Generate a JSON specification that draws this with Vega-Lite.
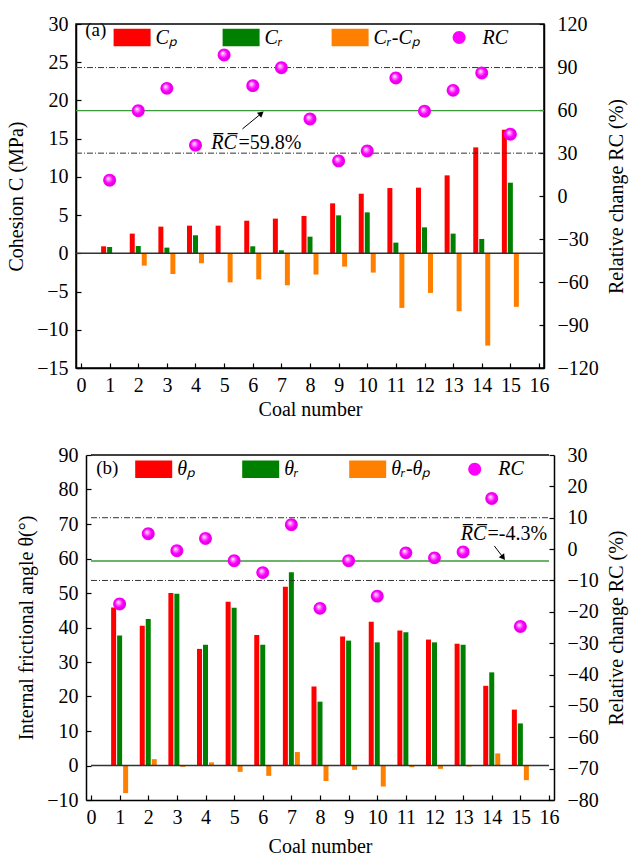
{
 "$schema": "https://vega.github.io/schema/vega-lite/v6.json",
 "padding": {"left": 5, "top": 13, "right": 5, "bottom": 3},
 "background": "white",
 "config": {
  "font": "Liberation Serif",
  "view": {"stroke": "black", "strokeWidth": 1.5},
  "axis": {"grid": false, "labelFontSize": 20, "titleFontSize": 20, "titleFontWeight": "normal", "labelColor": "black", "titleColor": "black", "domainColor": "black", "domainWidth": 1.5, "tickColor": "black", "tickSize": -5, "tickWidth": 1.2, "labelFont": "Liberation Serif", "titleFont": "Liberation Serif", "labelFlush": false, "labelOverlap": false},
  "legend": {"orient": "none", "direction": "horizontal", "columns": 4, "gridAlign": "all", "columnPadding": 20, "symbolSize": 1369, "symbolStrokeWidth": 0, "symbolOpacity": 1, "labelFontSize": 20, "labelFontStyle": "italic", "labelFont": "Liberation Serif", "labelColor": "black", "labelOffset": 5, "padding": 0, "title": null}
 },
 "datasets": {
  "a": [
   {"coal":1,"Cp":0.92,"Cr":0.83,"diff":-0.09,"RC":11.0},
   {"coal":2,"Cp":2.58,"Cr":0.96,"diff":-1.61,"RC":59.5},
   {"coal":3,"Cp":3.49,"Cr":0.75,"diff":-2.7,"RC":75.1},
   {"coal":4,"Cp":3.62,"Cr":2.36,"diff":-1.3,"RC":35.4},
   {"coal":5,"Cp":3.62,"Cr":0.06,"diff":-3.8,"RC":98.4},
   {"coal":6,"Cp":4.27,"Cr":0.92,"diff":-3.4,"RC":77.0},
   {"coal":7,"Cp":4.54,"Cr":0.4,"diff":-4.18,"RC":89.5},
   {"coal":8,"Cp":4.89,"Cr":2.18,"diff":-2.78,"RC":53.7},
   {"coal":9,"Cp":6.54,"Cr":4.97,"diff":-1.74,"RC":24.5},
   {"coal":10,"Cp":7.8,"Cr":5.36,"diff":-2.52,"RC":31.4},
   {"coal":11,"Cp":8.54,"Cr":1.4,"diff":-7.14,"RC":82.3},
   {"coal":12,"Cp":8.59,"Cr":3.4,"diff":-5.18,"RC":59.1},
   {"coal":13,"Cp":10.2,"Cr":2.58,"diff":-7.58,"RC":73.7},
   {"coal":14,"Cp":13.86,"Cr":1.88,"diff":-12.07,"RC":85.8},
   {"coal":15,"Cp":16.17,"Cr":9.24,"diff":-7.0,"RC":43.1}
  ],
  "b": [
   {"coal":1,"tp":45.8,"tr":37.7,"diff":-8.0,"RC":-17.5},
   {"coal":2,"tp":40.5,"tr":42.5,"diff":1.84,"RC":4.9},
   {"coal":3,"tp":50.0,"tr":49.8,"diff":-0.4,"RC":-0.5},
   {"coal":4,"tp":33.8,"tr":35.0,"diff":0.9,"RC":3.4},
   {"coal":5,"tp":47.5,"tr":45.7,"diff":-1.84,"RC":-3.7},
   {"coal":6,"tp":37.8,"tr":35.0,"diff":-3.0,"RC":-7.5},
   {"coal":7,"tp":51.8,"tr":56.0,"diff":3.9,"RC":7.8},
   {"coal":8,"tp":22.9,"tr":18.5,"diff":-4.5,"RC":-18.9},
   {"coal":9,"tp":37.4,"tr":36.2,"diff":-1.26,"RC":-3.7},
   {"coal":10,"tp":41.7,"tr":35.7,"diff":-6.1,"RC":-15.0},
   {"coal":11,"tp":39.1,"tr":38.6,"diff":-0.5,"RC":-1.2},
   {"coal":12,"tp":36.5,"tr":35.7,"diff":-0.97,"RC":-2.8},
   {"coal":13,"tp":35.3,"tr":35.0,"diff":-0.3,"RC":-0.9},
   {"coal":14,"tp":23.1,"tr":27.0,"diff":3.5,"RC":16.1},
   {"coal":15,"tp":16.2,"tr":12.2,"diff":-4.25,"RC":-24.7}
  ],
  "one": [{}]
 },
 "resolve": {"scale": {"color": "independent", "shape": "independent"}, "legend": {"color": "independent", "shape": "independent"}},
 "spacing": 25,
 "vconcat": [
  {
   "width": 468, "height": 344,
   "resolve": {"scale": {"y": "independent"}},
   "layer": [
    {
     "data": {"name": "a"},
     "layer": [
      {"mark": {"type": "bar", "orient": "vertical", "color": "#ff0000", "width": 5, "xOffset": -6},
       "encoding": {
        "x": {"field": "coal", "type": "quantitative", "scale": {"domain": [0,16], "nice": false}, "axis": {"title": "Coal number", "values": [0,1,2,3,4,5,6,7,8,9,10,11,12,13,14,15,16], "labelPadding": 12, "titlePadding": 4}},
        "y": {"field": "Cp", "type": "quantitative", "scale": {"domain": [-15,30], "nice": false, "zero": false}, "axis": {"title": "Cohesion C (MPa)", "orient": "left", "values": [-15,-10,-5,0,5,10,15,20,25,30], "labelPadding": 13, "titlePadding": 10}}}},
      {"mark": {"type": "bar", "orient": "vertical", "color": "#008000", "width": 5},
       "encoding": {
        "x": {"field": "coal", "type": "quantitative", "scale": {"domain": [0,16], "nice": false}, "axis": {"title": "Coal number", "values": [0,1,2,3,4,5,6,7,8,9,10,11,12,13,14,15,16], "labelPadding": 12, "titlePadding": 4}},
        "y": {"field": "Cr", "type": "quantitative", "scale": {"domain": [-15,30], "nice": false, "zero": false}, "axis": {"title": "Cohesion C (MPa)", "orient": "left", "values": [-15,-10,-5,0,5,10,15,20,25,30], "labelPadding": 13, "titlePadding": 10}}}},
      {"mark": {"type": "bar", "orient": "vertical", "color": "#ff8000", "width": 5, "xOffset": 6},
       "encoding": {
        "x": {"field": "coal", "type": "quantitative", "scale": {"domain": [0,16], "nice": false}, "axis": {"title": "Coal number", "values": [0,1,2,3,4,5,6,7,8,9,10,11,12,13,14,15,16], "labelPadding": 12, "titlePadding": 4}},
        "y": {"field": "diff", "type": "quantitative", "scale": {"domain": [-15,30], "nice": false, "zero": false}, "axis": {"title": "Cohesion C (MPa)", "orient": "left", "values": [-15,-10,-5,0,5,10,15,20,25,30], "labelPadding": 13, "titlePadding": 10}}}},
      {"data": {"name": "one"}, "mark": {"type": "rule", "color": "#333333", "strokeWidth": 1.5},
       "encoding": {"y": {"datum": 0, "type": "quantitative", "scale": {"domain": [-15,30], "nice": false, "zero": false}, "axis": {"title": "Cohesion C (MPa)", "orient": "left", "values": [-15,-10,-5,0,5,10,15,20,25,30], "labelPadding": 13, "titlePadding": 10}}}},
      {"data": {"name": "one"}, "mark": {"type": "text", "text": "(a)", "align": "left", "baseline": "middle", "fontSize": 19, "font": "Liberation Serif"},
       "encoding": {
        "x": {"datum": 0.15, "type": "quantitative", "scale": {"domain": [0,16], "nice": false}, "axis": {"title": "Coal number", "values": [0,1,2,3,4,5,6,7,8,9,10,11,12,13,14,15,16], "labelPadding": 12, "titlePadding": 4}},
        "y": {"datum": 29.2, "type": "quantitative", "scale": {"domain": [-15,30], "nice": false, "zero": false}, "axis": {"title": "Cohesion C (MPa)", "orient": "left", "values": [-15,-10,-5,0,5,10,15,20,25,30], "labelPadding": 13, "titlePadding": 10}}}}
     ]
    },
    {
     "data": {"name": "a"},
     "layer": [
      {"data": {"name": "one"}, "mark": {"type": "rule", "color": "#333333", "strokeWidth": 1, "strokeDash": [6, 2, 1, 2]},
       "encoding": {"y": {"datum": 89.6, "type": "quantitative", "scale": {"domain": [-120,120], "nice": false, "zero": false}, "axis": {"title": "Relative change RC (%)", "orient": "right", "values": [-120,-90,-60,-30,0,30,60,90,120], "labelPadding": 18, "titlePadding": 8, "titleAngle": 270, "titleBaseline": "top"}}}},
      {"data": {"name": "one"}, "mark": {"type": "rule", "color": "#333333", "strokeWidth": 1, "strokeDash": [6, 2, 1, 2]},
       "encoding": {"y": {"datum": 29.9, "type": "quantitative", "scale": {"domain": [-120,120], "nice": false, "zero": false}, "axis": {"title": "Relative change RC (%)", "orient": "right", "values": [-120,-90,-60,-30,0,30,60,90,120], "labelPadding": 18, "titlePadding": 8, "titleAngle": 270, "titleBaseline": "top"}}}},
      {"data": {"name": "one"}, "mark": {"type": "rule", "color": "#3a9a3a", "strokeWidth": 1.3},
       "encoding": {"y": {"datum": 59.6, "type": "quantitative", "scale": {"domain": [-120,120], "nice": false, "zero": false}, "axis": {"title": "Relative change RC (%)", "orient": "right", "values": [-120,-90,-60,-30,0,30,60,90,120], "labelPadding": 18, "titlePadding": 8, "titleAngle": 270, "titleBaseline": "top"}}}},
      {"mark": {"type": "point", "filled": true, "opacity": 1, "size": 1369, "strokeWidth": 0},
       "encoding": {
        "x": {"field": "coal", "type": "quantitative", "scale": {"domain": [0,16], "nice": false}, "axis": {"title": "Coal number", "values": [0,1,2,3,4,5,6,7,8,9,10,11,12,13,14,15,16], "labelPadding": 12, "titlePadding": 4}},
        "y": {"field": "RC", "type": "quantitative", "scale": {"domain": [-120,120], "nice": false, "zero": false}, "axis": {"title": "Relative change RC (%)", "orient": "right", "values": [-120,-90,-60,-30,0,30,60,90,120], "labelPadding": 18, "titlePadding": 8, "titleAngle": 270, "titleBaseline": "top"}},
        "color": {"datum": "RC", "type": "nominal", "scale": {"domain": ["Cₚ", "Cᵣ", "Cᵣ-Cₚ", "RC"], "range": ["#ff0000", "#008000", "#ff8000", "#ff00ff"]}, "legend": {"legendX": 37.6, "legendY": -5.2}},
        "shape": {"datum": "RC", "type": "nominal", "scale": {"domain": ["Cₚ", "Cᵣ", "Cᵣ-Cₚ", "RC"], "range": ["M-1,-0.47H1V0.47H-1Z", "M-1,-0.47H1V0.47H-1Z", "M-1,-0.47H1V0.47H-1Z", "M0,-0.35A0.35,0.35 0 1 1 0,0.35A0.35,0.35 0 1 1 0,-0.35Z"]}, "legend": {"legendX": 37.6, "legendY": -5.2}}}},
      {"mark": {"type": "point", "filled": true, "opacity": 1, "shape": "circle", "size": 133, "strokeWidth": 0,
        "color": {"gradient": "radial", "x1": 0.35, "y1": 0.32, "r1": 0, "x2": 0.5, "y2": 0.5, "r2": 0.55, "stops": [{"offset": 0, "color": "#ffffff"}, {"offset": 0.3, "color": "#ff80ff"}, {"offset": 0.6, "color": "#ff00ff"}, {"offset": 1, "color": "#d000d0"}]}},
       "encoding": {
        "x": {"field": "coal", "type": "quantitative", "scale": {"domain": [0,16], "nice": false}, "axis": {"title": "Coal number", "values": [0,1,2,3,4,5,6,7,8,9,10,11,12,13,14,15,16], "labelPadding": 12, "titlePadding": 4}},
        "y": {"field": "RC", "type": "quantitative", "scale": {"domain": [-120,120], "nice": false, "zero": false}, "axis": {"title": "Relative change RC (%)", "orient": "right", "values": [-120,-90,-60,-30,0,30,60,90,120], "labelPadding": 18, "titlePadding": 8, "titleAngle": 270, "titleBaseline": "top"}}}},
      {"data": {"name": "one"}, "mark": {"type": "text", "text": "R\u0305C\u0305", "align": "left", "baseline": "middle", "fontSize": 20, "fontStyle": "italic", "font": "Liberation Serif"},
       "encoding": {
        "x": {"datum": 4.55, "type": "quantitative", "scale": {"domain": [0,16], "nice": false}, "axis": {"title": "Coal number", "values": [0,1,2,3,4,5,6,7,8,9,10,11,12,13,14,15,16], "labelPadding": 12, "titlePadding": 4}},
        "y": {"datum": 37.2, "type": "quantitative", "scale": {"domain": [-120,120], "nice": false, "zero": false}, "axis": {"title": "Relative change RC (%)", "orient": "right", "values": [-120,-90,-60,-30,0,30,60,90,120], "labelPadding": 18, "titlePadding": 8, "titleAngle": 270, "titleBaseline": "top"}}}},
      {"data": {"name": "one"}, "mark": {"type": "text", "text": "=59.8%", "align": "left", "baseline": "middle", "fontSize": 20, "font": "Liberation Serif"},
       "encoding": {
        "x": {"datum": 5.5, "type": "quantitative", "scale": {"domain": [0,16], "nice": false}, "axis": {"title": "Coal number", "values": [0,1,2,3,4,5,6,7,8,9,10,11,12,13,14,15,16], "labelPadding": 12, "titlePadding": 4}},
        "y": {"datum": 37.2, "type": "quantitative", "scale": {"domain": [-120,120], "nice": false, "zero": false}, "axis": {"title": "Relative change RC (%)", "orient": "right", "values": [-120,-90,-60,-30,0,30,60,90,120], "labelPadding": 18, "titlePadding": 8, "titleAngle": 270, "titleBaseline": "top"}}}},
      {"data": {"name": "one"}, "mark": {"type": "rule", "color": "black", "strokeWidth": 1},
       "encoding": {
        "x": {"datum": 5.64, "type": "quantitative", "scale": {"domain": [0,16], "nice": false}, "axis": {"title": "Coal number", "values": [0,1,2,3,4,5,6,7,8,9,10,11,12,13,14,15,16], "labelPadding": 12, "titlePadding": 4}},
        "x2": {"datum": 6.3},
        "y": {"datum": 46.8, "type": "quantitative", "scale": {"domain": [-120,120], "nice": false, "zero": false}, "axis": {"title": "Relative change RC (%)", "orient": "right", "values": [-120,-90,-60,-30,0,30,60,90,120], "labelPadding": 18, "titlePadding": 8, "titleAngle": 270, "titleBaseline": "top"}},
        "y2": {"datum": 57.6}}},
      {"data": {"name": "one"}, "mark": {"type": "point", "shape": "triangle-up", "angle": 51, "size": 45, "filled": true, "opacity": 1, "color": "black"},
       "encoding": {
        "x": {"datum": 6.3, "type": "quantitative", "scale": {"domain": [0,16], "nice": false}, "axis": {"title": "Coal number", "values": [0,1,2,3,4,5,6,7,8,9,10,11,12,13,14,15,16], "labelPadding": 12, "titlePadding": 4}},
        "y": {"datum": 57.6, "type": "quantitative", "scale": {"domain": [-120,120], "nice": false, "zero": false}, "axis": {"title": "Relative change RC (%)", "orient": "right", "values": [-120,-90,-60,-30,0,30,60,90,120], "labelPadding": 18, "titlePadding": 8, "titleAngle": 270, "titleBaseline": "top"}}}}
     ]
    }
   ]
  },
  {
   "width": 478, "height": 345,
   "view": {"stroke": null},
   "resolve": {"scale": {"y": "independent"}},
   "layer": [
    {
     "data": {"name": "b"},
     "layer": [
      {"mark": {"type": "bar", "orient": "vertical", "color": "#ff0000", "width": 5, "xOffset": -6},
       "encoding": {
        "x": {"field": "coal", "type": "quantitative", "scale": {"domain": [0,16], "range": [10,478], "nice": false}, "axis": {"title": "Coal number", "values": [0,1,2,3,4,5,6,7,8,9,10,11,12,13,14,15,16], "labelPadding": 12, "titlePadding": 9}},
        "y": {"field": "tp", "type": "quantitative", "scale": {"domain": [-10,90], "nice": false, "zero": false}, "axis": {"title": "Internal frictional angle θ(°)", "offset": -10, "orient": "left", "values": [-10,0,10,20,30,40,50,60,70,80,90], "labelPadding": 13, "titlePadding": 10}}}},
      {"mark": {"type": "bar", "orient": "vertical", "color": "#008000", "width": 5},
       "encoding": {
        "x": {"field": "coal", "type": "quantitative", "scale": {"domain": [0,16], "range": [10,478], "nice": false}, "axis": {"title": "Coal number", "values": [0,1,2,3,4,5,6,7,8,9,10,11,12,13,14,15,16], "labelPadding": 12, "titlePadding": 9}},
        "y": {"field": "tr", "type": "quantitative", "scale": {"domain": [-10,90], "nice": false, "zero": false}, "axis": {"title": "Internal frictional angle θ(°)", "offset": -10, "orient": "left", "values": [-10,0,10,20,30,40,50,60,70,80,90], "labelPadding": 13, "titlePadding": 10}}}},
      {"mark": {"type": "bar", "orient": "vertical", "color": "#ff8000", "width": 5, "xOffset": 6},
       "encoding": {
        "x": {"field": "coal", "type": "quantitative", "scale": {"domain": [0,16], "range": [10,478], "nice": false}, "axis": {"title": "Coal number", "values": [0,1,2,3,4,5,6,7,8,9,10,11,12,13,14,15,16], "labelPadding": 12, "titlePadding": 9}},
        "y": {"field": "diff", "type": "quantitative", "scale": {"domain": [-10,90], "nice": false, "zero": false}, "axis": {"title": "Internal frictional angle θ(°)", "offset": -10, "orient": "left", "values": [-10,0,10,20,30,40,50,60,70,80,90], "labelPadding": 13, "titlePadding": 10}}}},
      {"data": {"name": "one"}, "mark": {"type": "rule", "color": "#333333", "strokeWidth": 1.5},
       "encoding": {
        "x": {"datum": 0, "type": "quantitative", "scale": {"domain": [0,16], "range": [10,478], "nice": false}, "axis": {"title": "Coal number", "values": [0,1,2,3,4,5,6,7,8,9,10,11,12,13,14,15,16], "labelPadding": 12, "titlePadding": 9}},
        "x2": {"datum": 16},
        "y": {"datum": 0, "type": "quantitative", "scale": {"domain": [-10,90], "nice": false, "zero": false}, "axis": {"title": "Internal frictional angle θ(°)", "offset": -10, "orient": "left", "values": [-10,0,10,20,30,40,50,60,70,80,90], "labelPadding": 13, "titlePadding": 10}}}},
      {"data": {"name": "one"}, "mark": {"type": "rule", "color": "black", "strokeWidth": 1.5},
       "encoding": {
        "x": {"datum": 0, "type": "quantitative", "scale": {"domain": [0,16], "range": [10,478], "nice": false}, "axis": {"title": "Coal number", "values": [0,1,2,3,4,5,6,7,8,9,10,11,12,13,14,15,16], "labelPadding": 12, "titlePadding": 9}},
        "x2": {"datum": 16},
        "y": {"datum": 90, "type": "quantitative", "scale": {"domain": [-10,90], "nice": false, "zero": false}, "axis": {"title": "Internal frictional angle θ(°)", "offset": -10, "orient": "left", "values": [-10,0,10,20,30,40,50,60,70,80,90], "labelPadding": 13, "titlePadding": 10}}}},
      {"data": {"name": "one"}, "mark": {"type": "text", "text": "(b)", "align": "left", "baseline": "middle", "fontSize": 19, "font": "Liberation Serif"},
       "encoding": {
        "x": {"datum": 0.18, "type": "quantitative", "scale": {"domain": [0,16], "range": [10,478], "nice": false}, "axis": {"title": "Coal number", "values": [0,1,2,3,4,5,6,7,8,9,10,11,12,13,14,15,16], "labelPadding": 12, "titlePadding": 9}},
        "y": {"datum": 86.3, "type": "quantitative", "scale": {"domain": [-10,90], "nice": false, "zero": false}, "axis": {"title": "Internal frictional angle θ(°)", "offset": -10, "orient": "left", "values": [-10,0,10,20,30,40,50,60,70,80,90], "labelPadding": 13, "titlePadding": 10}}}}
     ]
    },
    {
     "data": {"name": "b"},
     "layer": [
      {"data": {"name": "one"}, "mark": {"type": "rule", "color": "#333333", "strokeWidth": 1, "strokeDash": [6, 2, 1, 2]},
       "encoding": {
        "x": {"datum": 0, "type": "quantitative", "scale": {"domain": [0,16], "range": [10,478], "nice": false}, "axis": {"title": "Coal number", "values": [0,1,2,3,4,5,6,7,8,9,10,11,12,13,14,15,16], "labelPadding": 12, "titlePadding": 9}},
        "x2": {"datum": 16},
        "y": {"datum": 10, "type": "quantitative", "scale": {"domain": [-80,30], "nice": false, "zero": false}, "axis": {"title": "Relative change RC (%)", "orient": "right", "values": [-80,-70,-60,-50,-40,-30,-20,-10,0,10,20,30], "labelPadding": 18, "titlePadding": 8, "titleAngle": 270, "titleBaseline": "top"}}}},
      {"data": {"name": "one"}, "mark": {"type": "rule", "color": "#333333", "strokeWidth": 1, "strokeDash": [6, 2, 1, 2]},
       "encoding": {
        "x": {"datum": 0, "type": "quantitative", "scale": {"domain": [0,16], "range": [10,478], "nice": false}, "axis": {"title": "Coal number", "values": [0,1,2,3,4,5,6,7,8,9,10,11,12,13,14,15,16], "labelPadding": 12, "titlePadding": 9}},
        "x2": {"datum": 16},
        "y": {"datum": -10, "type": "quantitative", "scale": {"domain": [-80,30], "nice": false, "zero": false}, "axis": {"title": "Relative change RC (%)", "orient": "right", "values": [-80,-70,-60,-50,-40,-30,-20,-10,0,10,20,30], "labelPadding": 18, "titlePadding": 8, "titleAngle": 270, "titleBaseline": "top"}}}},
      {"data": {"name": "one"}, "mark": {"type": "rule", "color": "#3a9a3a", "strokeWidth": 1.3},
       "encoding": {
        "x": {"datum": 0, "type": "quantitative", "scale": {"domain": [0,16], "range": [10,478], "nice": false}, "axis": {"title": "Coal number", "values": [0,1,2,3,4,5,6,7,8,9,10,11,12,13,14,15,16], "labelPadding": 12, "titlePadding": 9}},
        "x2": {"datum": 16},
        "y": {"datum": -3.8, "type": "quantitative", "scale": {"domain": [-80,30], "nice": false, "zero": false}, "axis": {"title": "Relative change RC (%)", "orient": "right", "values": [-80,-70,-60,-50,-40,-30,-20,-10,0,10,20,30], "labelPadding": 18, "titlePadding": 8, "titleAngle": 270, "titleBaseline": "top"}}}},
      {"mark": {"type": "point", "filled": true, "opacity": 1, "size": 1369, "strokeWidth": 0},
       "encoding": {
        "x": {"field": "coal", "type": "quantitative", "scale": {"domain": [0,16], "range": [10,478], "nice": false}, "axis": {"title": "Coal number", "values": [0,1,2,3,4,5,6,7,8,9,10,11,12,13,14,15,16], "labelPadding": 12, "titlePadding": 9}},
        "y": {"field": "RC", "type": "quantitative", "scale": {"domain": [-80,30], "nice": false, "zero": false}, "axis": {"title": "Relative change RC (%)", "orient": "right", "values": [-80,-70,-60,-50,-40,-30,-20,-10,0,10,20,30], "labelPadding": 18, "titlePadding": 8, "titleAngle": 270, "titleBaseline": "top"}},
        "color": {"datum": "RC", "type": "nominal", "scale": {"domain": ["θₚ", "θᵣ", "θᵣ-θₚ", "RC"], "range": ["#ff0000", "#008000", "#ff8000", "#ff00ff"]}, "legend": {"legendX": 59.2, "legendY": -4.5, "columnPadding": 25}},
        "shape": {"datum": "RC", "type": "nominal", "scale": {"domain": ["θₚ", "θᵣ", "θᵣ-θₚ", "RC"], "range": ["M-1,-0.47H1V0.47H-1Z", "M-1,-0.47H1V0.47H-1Z", "M-1,-0.47H1V0.47H-1Z", "M0,-0.35A0.35,0.35 0 1 1 0,0.35A0.35,0.35 0 1 1 0,-0.35Z"]}, "legend": {"legendX": 59.2, "legendY": -4.5, "columnPadding": 25}}}},
      {"mark": {"type": "point", "filled": true, "opacity": 1, "shape": "circle", "size": 133, "strokeWidth": 0,
        "color": {"gradient": "radial", "x1": 0.35, "y1": 0.32, "r1": 0, "x2": 0.5, "y2": 0.5, "r2": 0.55, "stops": [{"offset": 0, "color": "#ffffff"}, {"offset": 0.3, "color": "#ff80ff"}, {"offset": 0.6, "color": "#ff00ff"}, {"offset": 1, "color": "#d000d0"}]}},
       "encoding": {
        "x": {"field": "coal", "type": "quantitative", "scale": {"domain": [0,16], "range": [10,478], "nice": false}, "axis": {"title": "Coal number", "values": [0,1,2,3,4,5,6,7,8,9,10,11,12,13,14,15,16], "labelPadding": 12, "titlePadding": 9}},
        "y": {"field": "RC", "type": "quantitative", "scale": {"domain": [-80,30], "nice": false, "zero": false}, "axis": {"title": "Relative change RC (%)", "orient": "right", "values": [-80,-70,-60,-50,-40,-30,-20,-10,0,10,20,30], "labelPadding": 18, "titlePadding": 8, "titleAngle": 270, "titleBaseline": "top"}}}},
      {"data": {"name": "one"}, "mark": {"type": "text", "text": "R\u0305C\u0305", "align": "left", "baseline": "middle", "fontSize": 20, "fontStyle": "italic", "font": "Liberation Serif"},
       "encoding": {
        "x": {"datum": 12.92, "type": "quantitative", "scale": {"domain": [0,16], "range": [10,478], "nice": false}, "axis": {"title": "Coal number", "values": [0,1,2,3,4,5,6,7,8,9,10,11,12,13,14,15,16], "labelPadding": 12, "titlePadding": 9}},
        "y": {"datum": 4.7, "type": "quantitative", "scale": {"domain": [-80,30], "nice": false, "zero": false}, "axis": {"title": "Relative change RC (%)", "orient": "right", "values": [-80,-70,-60,-50,-40,-30,-20,-10,0,10,20,30], "labelPadding": 18, "titlePadding": 8, "titleAngle": 270, "titleBaseline": "top"}}}},
      {"data": {"name": "one"}, "mark": {"type": "text", "text": "=-4.3%", "align": "left", "baseline": "middle", "fontSize": 20, "font": "Liberation Serif"},
       "encoding": {
        "x": {"datum": 13.85, "type": "quantitative", "scale": {"domain": [0,16], "range": [10,478], "nice": false}, "axis": {"title": "Coal number", "values": [0,1,2,3,4,5,6,7,8,9,10,11,12,13,14,15,16], "labelPadding": 12, "titlePadding": 9}},
        "y": {"datum": 4.7, "type": "quantitative", "scale": {"domain": [-80,30], "nice": false, "zero": false}, "axis": {"title": "Relative change RC (%)", "orient": "right", "values": [-80,-70,-60,-50,-40,-30,-20,-10,0,10,20,30], "labelPadding": 18, "titlePadding": 8, "titleAngle": 270, "titleBaseline": "top"}}}},
      {"data": {"name": "one"}, "mark": {"type": "rule", "color": "black", "strokeWidth": 1},
       "encoding": {
        "x": {"datum": 14.09, "type": "quantitative", "scale": {"domain": [0,16], "range": [10,478], "nice": false}, "axis": {"title": "Coal number", "values": [0,1,2,3,4,5,6,7,8,9,10,11,12,13,14,15,16], "labelPadding": 12, "titlePadding": 9}},
        "x2": {"datum": 14.4},
        "y": {"datum": 1.0, "type": "quantitative", "scale": {"domain": [-80,30], "nice": false, "zero": false}, "axis": {"title": "Relative change RC (%)", "orient": "right", "values": [-80,-70,-60,-50,-40,-30,-20,-10,0,10,20,30], "labelPadding": 18, "titlePadding": 8, "titleAngle": 270, "titleBaseline": "top"}},
        "y2": {"datum": -2.7}}},
      {"data": {"name": "one"}, "mark": {"type": "point", "shape": "triangle-up", "angle": 143, "size": 45, "filled": true, "opacity": 1, "color": "black"},
       "encoding": {
        "x": {"datum": 14.4, "type": "quantitative", "scale": {"domain": [0,16], "range": [10,478], "nice": false}, "axis": {"title": "Coal number", "values": [0,1,2,3,4,5,6,7,8,9,10,11,12,13,14,15,16], "labelPadding": 12, "titlePadding": 9}},
        "y": {"datum": -2.7, "type": "quantitative", "scale": {"domain": [-80,30], "nice": false, "zero": false}, "axis": {"title": "Relative change RC (%)", "orient": "right", "values": [-80,-70,-60,-50,-40,-30,-20,-10,0,10,20,30], "labelPadding": 18, "titlePadding": 8, "titleAngle": 270, "titleBaseline": "top"}}}}
     ]
    }
   ]
  }
 ]
}
